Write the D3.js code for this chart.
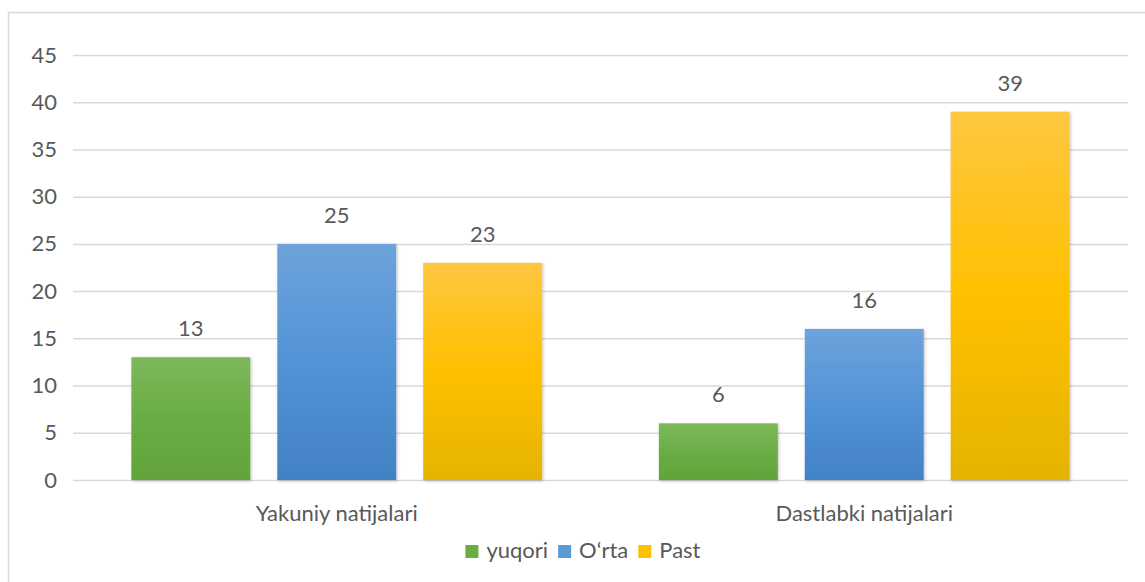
<!DOCTYPE html>
<html>
<head>
<meta charset="utf-8">
<script src="https://cdn.jsdelivr.net/npm/d3@7"></script>
<style>
  body { margin: 0; background: #fff; }
  text { font-family: Lato, "Open Sans", sans-serif; fill: #595959; }
</style>
</head>
<body>
<div id="chart"></div>
<script>
// data
const groups = [ 'Yakuniy natijalari', 'Dastlabki natijalari' ];
const series = [ 'yuqori', 'O\u2018rta', 'Past' ];
const yuqori = [ 13, 6 ];
const orta = [ 25, 16 ];
const past = [ 23, 39 ];
const yTicks = [ 0, 5, 10, 15, 20, 25, 30, 35, 40, 45 ];

const seriesValues = [ yuqori, orta, past ];
const data = groups.map( function( g, i ) {
  const row = { group: g };
  series.forEach( function( s, j ) { row[s] = seriesValues[j][i]; } );
  return row;
});

const fontSize = 22;
const figure_width = 1145, figure_height = 582;
const plot_margin = { top: 55, right: 17, bottom: 102, left: 73 },
    plot_width = figure_width - plot_margin.left - plot_margin.right,
    plot_height = figure_height - plot_margin.top - plot_margin.bottom;

const root = d3.select( 'div#chart' )
  .append( 'svg' )
    .attr( 'width', figure_width )
    .attr( 'height', figure_height );

// chart frame (runs off the right and bottom of the picture)
root.append( 'rect' )
  .attr( 'x', 8.5 ).attr( 'y', 12.5 )
  .attr( 'width', 1200 ).attr( 'height', 700 )
  .attr( 'fill', 'none' )
  .attr( 'stroke', '#d9d9d9' )
  .attr( 'stroke-width', 1.5 );

const defs = root.append( 'defs' );
const gradStops = [
  [ '#7db95b', '#6aad45', '#62a33a' ],
  [ '#6ea3dc', '#5293d6', '#4282c4' ],
  [ '#fec740', '#ffc000', '#e5b400' ]
];
gradStops.forEach( function( stops, i ) {
  const lg = defs.append( 'linearGradient' )
    .attr( 'id', 'grad' + i )
    .attr( 'x1', 0 ).attr( 'y1', 0 ).attr( 'x2', 0 ).attr( 'y2', 1 );
  lg.append( 'stop' ).attr( 'offset', '0%' ).attr( 'stop-color', stops[0] );
  lg.append( 'stop' ).attr( 'offset', '50%' ).attr( 'stop-color', stops[1] );
  lg.append( 'stop' ).attr( 'offset', '100%' ).attr( 'stop-color', stops[2] );
});
const shadow = defs.append( 'filter' ).attr( 'id', 'shadow' )
  .attr( 'x', '-10%' ).attr( 'y', '-10%' ).attr( 'width', '120%' ).attr( 'height', '120%' );
shadow.append( 'feDropShadow' )
  .attr( 'dx', 1 ).attr( 'dy', 1 ).attr( 'stdDeviation', 1.5 )
  .attr( 'flood-color', '#000' ).attr( 'flood-opacity', 0.25 );

const svg = root.append( 'g' )
  .attr( 'transform', 'translate(' + plot_margin.left + ',' + plot_margin.top + ')' );

const y = d3.scaleLinear()
  .domain( [ 0, 45 ] )
  .range( [ plot_height, 0 ] );

const x = d3.scaleBand()
  .domain( groups )
  .range( [ 0, plot_width ] )
  .padding( 0 );

const xSubgroup = d3.scaleBand()
  .domain( series )
  .range( [ 0, x.bandwidth() ] )
  .paddingInner( 0.185 )
  .paddingOuter( 0.40 );

// gridlines + y labels
const yAxis = svg.append( 'g' )
  .call( d3.axisLeft( y ).tickValues( yTicks ).tickSize( -plot_width ).tickPadding( 16 ) );
yAxis.select( '.domain' ).remove();
yAxis.selectAll( '.tick line' ).attr( 'stroke', '#d9d9d9' ).attr( 'stroke-width', 1.5 );
yAxis.selectAll( '.tick text' )
  .style( 'font-family', 'Lato, sans-serif' )
  .attr( 'font-size', fontSize ).attr( 'fill', '#595959' );

// x labels
const xAxis = svg.append( 'g' )
  .attr( 'transform', 'translate(0,' + plot_height + ')' )
  .call( d3.axisBottom( x ).tickSize( 0 ).tickPadding( 25 ) );
xAxis.select( '.domain' ).remove();
xAxis.selectAll( '.tick text' )
  .style( 'font-family', 'Lato, sans-serif' )
  .attr( 'font-size', fontSize ).attr( 'fill', '#595959' );

// bars
const groupG = svg.append( 'g' )
  .selectAll( 'g' )
  .data( data )
  .enter()
  .append( 'g' )
    .attr( 'transform', function( d ) { return 'translate(' + x( d.group ) + ',0)'; } );

const cells = groupG.selectAll( 'g' )
  .data( function( d ) { return series.map( function( key, i ) { return { key: key, i: i, value: d[key] }; } ); } )
  .enter().append( 'g' );

cells.append( 'rect' )
  .attr( 'x', function( d ) { return xSubgroup( d.key ); } )
  .attr( 'y', function( d ) { return y( d.value ); } )
  .attr( 'width', xSubgroup.bandwidth() )
  .attr( 'height', function( d ) { return plot_height - y( d.value ); } )
  .attr( 'fill', function( d ) { return 'url(#grad' + d.i + ')'; } )
  .attr( 'filter', 'url(#shadow)' );

cells.append( 'text' )
  .attr( 'x', function( d ) { return xSubgroup( d.key ) + xSubgroup.bandwidth() / 2; } )
  .attr( 'y', function( d ) { return y( d.value ) - 21; } )
  .attr( 'text-anchor', 'middle' )
  .attr( 'font-size', fontSize )
  .text( function( d ) { return d.value; } );

// legend
const legendColors = [ '#6aad45', '#5b9bd5', '#ffc000' ];
const legendCenter = 583;
const legend = root.append( 'g' ).attr( 'transform', 'translate(0,558)' );
const items = legend.selectAll( 'g' ).data( series ).enter().append( 'g' );
items.append( 'rect' )
  .attr( 'y', -13 ).attr( 'width', 13 ).attr( 'height', 13 )
  .attr( 'fill', function( d, i ) { return legendColors[i]; } );
items.append( 'text' )
  .attr( 'x', 21 )
  .attr( 'font-size', fontSize )
  .text( function( d ) { return d; } );
// lay items out side by side, centred
let offset = 0;
const widths = [];
items.each( function() {
  widths.push( this.getBBox().width );
});
const gap = 10;
const total = d3.sum( widths ) + gap * ( widths.length - 1 );
offset = legendCenter - total / 2;
items.attr( 'transform', function( d, i ) {
  const t = 'translate(' + offset + ',0)';
  offset += widths[i] + gap;
  return t;
});
</script>
</body>
</html>
